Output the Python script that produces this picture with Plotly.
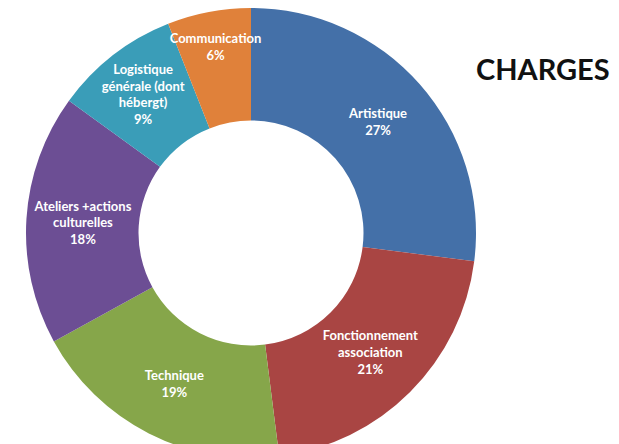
import plotly.graph_objects as go

categories = ["Artistique", "Fonctionnement association", "Technique",
              "Ateliers +actions culturelles", "Logistique générale (dont hébergt)",
              "Communication"]
display_labels = ["Artistique", "Fonctionnement<br>association", "Technique",
                  "Ateliers +actions<br>culturelles", "Logistique<br>générale (dont<br>hébergt)",
                  "Communication"]
values = [27, 21, 19, 18, 9, 6]
colors = ["#4470A8", "#A94543", "#86A64A", "#6C4E94", "#3A9DB8", "#E0813A"]
title_text = "CHARGES"

W, H = 619, 460
cx, cy, r = 243, 225, 225  # pie centre / radius in figure pixels

fig = go.Figure(go.Pie(
    labels=categories,
    values=values,
    text=display_labels,
    texttemplate="<b>%{text}<br>%{percent:.0%}</b>",
    textposition="inside",
    insidetextorientation="horizontal",
    textfont=dict(family="Lato", size=13, color="white"),
    marker=dict(colors=colors, line=dict(width=0)),
    hole=0.5,
    sort=False,
    direction="clockwise",
    rotation=0,
    domain=dict(x=[(cx - r) / W, (cx + r) / W],
                y=[1 - (cy + r) / H, 1 - (cy - r) / H]),
    showlegend=False,
))

fig.update_layout(
    width=W, height=H,
    margin=dict(l=0, r=0, t=0, b=0),
    paper_bgcolor="white",
    plot_bgcolor="white",
    uniformtext=dict(minsize=13, mode="show"),
    annotations=[dict(
        text="<b>" + title_text + "</b>",
        x=535 / W, y=1 - 60 / H, xref="paper", yref="paper",
        xanchor="center", yanchor="middle", showarrow=False,
        font=dict(family="Lato", size=29, color="#111111"),
    )],
)

fig.write_html("out.html")
